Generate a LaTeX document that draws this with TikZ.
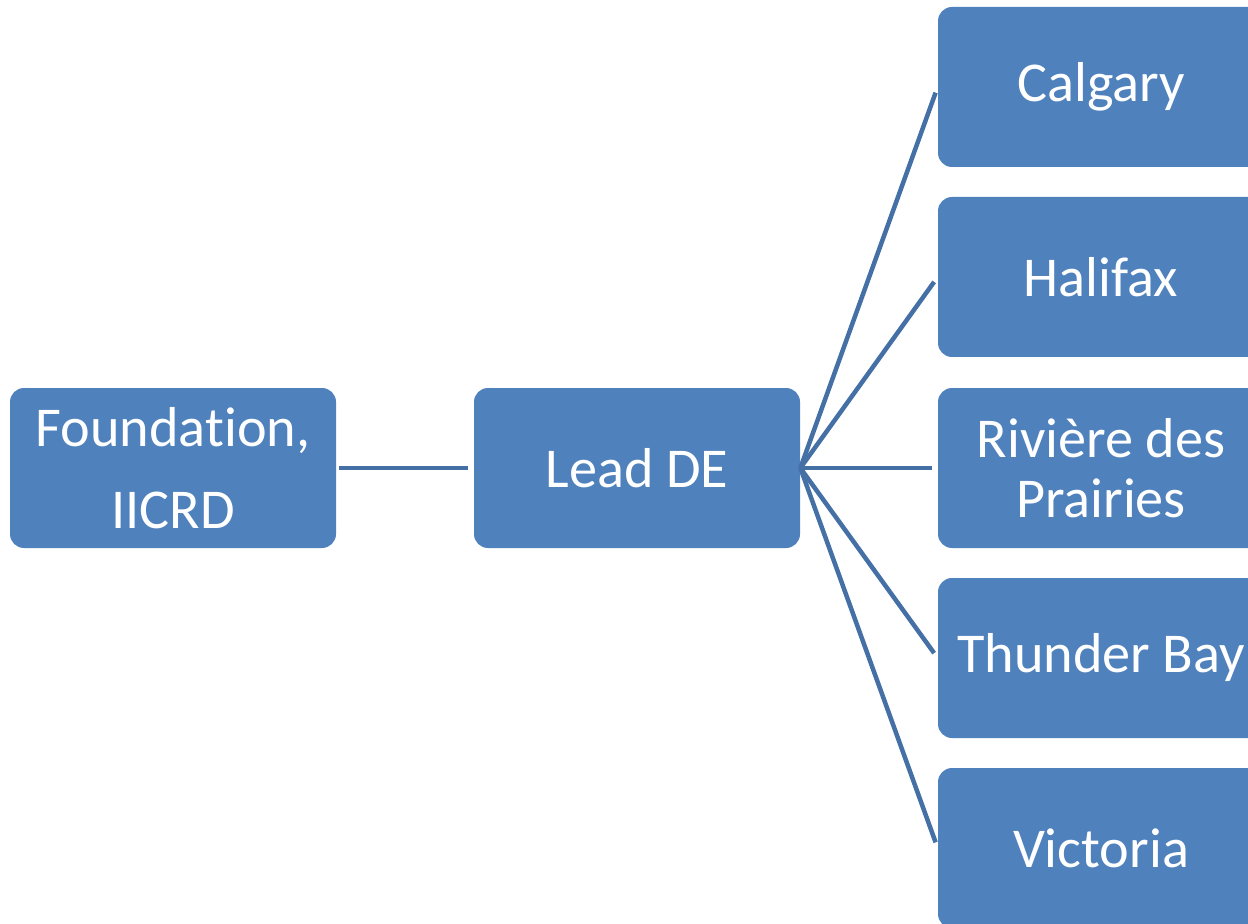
\documentclass[tikz,border=0pt]{standalone}
\usepackage{fontspec}
\setmainfont{Carlito}[Ligatures=CommonOff]
\usepackage{xcolor}
\usepackage{tikz}
\definecolor{unitblue}{RGB}{79, 129, 189}
\definecolor{linkblue}{RGB}{68, 112, 166}
\usetikzlibrary{positioning}

\begin{document}
\begin{tikzpicture}[
    unit/.style={rectangle, fill=unitblue, rounded corners=0.28cm, minimum width=6.52cm, minimum height=3.2cm, align=center, text=white, font=\fontsize{32}{34}\selectfont},
    link/.style={draw=linkblue, line width=0.09cm, shorten >=0.12cm}
]
    \clip (0, 0) rectangle (24.96, -18.48);
    \node[unit] (found) at (3.46, -9.36) {Founda\kern0pt tion,\\[13pt]IICRD};
    \node[unit] (lead) at (12.74, -9.36) {Lead DE};
    \node[unit] (calgary) at (22.02, -1.74) {Calgary};
    \node[unit] (halifax) at (22.02, -5.54) {Halifax};
    \node[unit] (riviere) at (22.02, -9.36) {Rivière des\\Prairies};
    \node[unit] (thunder) at (22.02, -13.16) {Thunder Bay};
    \node[unit] (victoria) at (22.02, -16.96) {Victoria};
    \draw[link, shorten <=0.06cm] (found) -- (lead);
    \foreach \site in {calgary, halifax, riviere, thunder, victoria}
        \draw[link] (lead.east) -- (\site.west);
\end{tikzpicture}
\end{document}
